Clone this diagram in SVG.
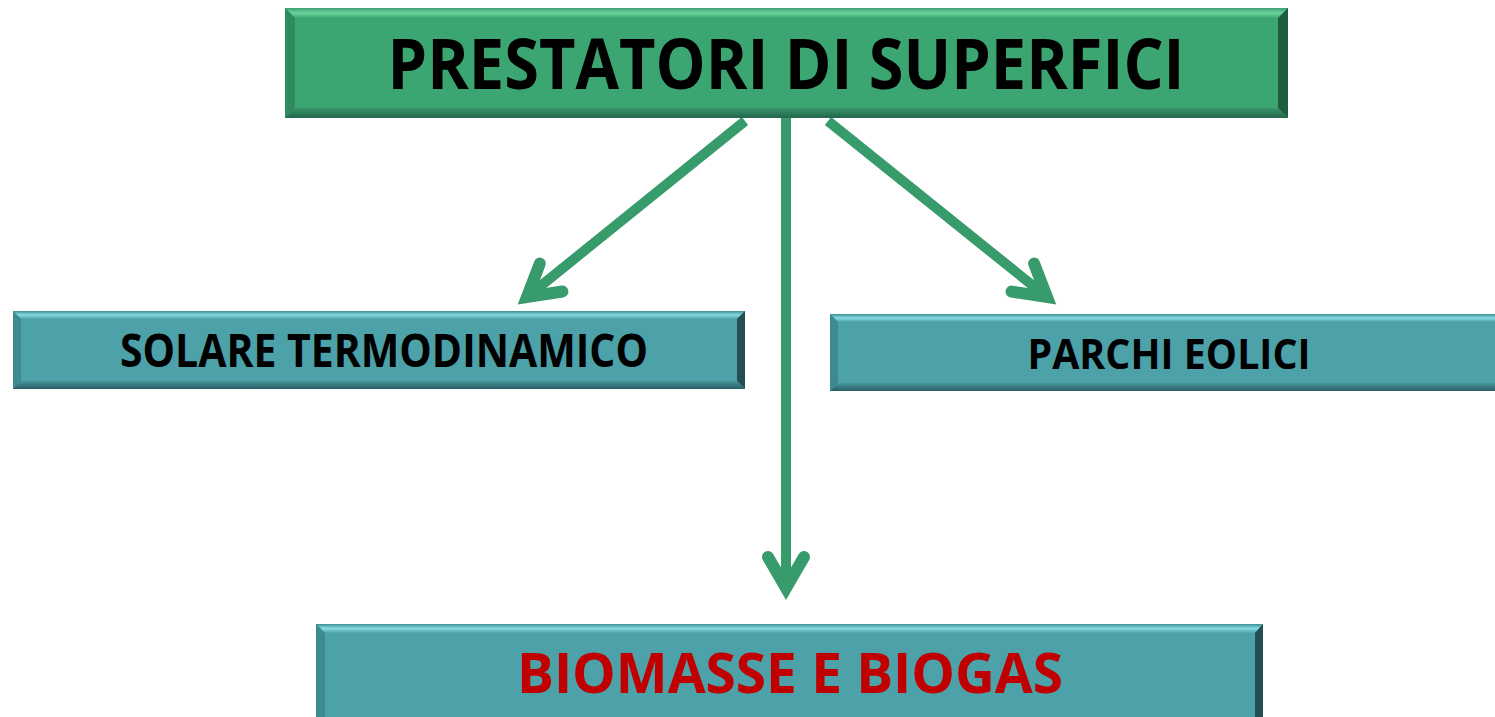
<svg xmlns="http://www.w3.org/2000/svg" width="1495" height="717" viewBox="0 0 1495 717">
<style>
.t{font-family:"Open Sans","Liberation Sans",sans-serif;font-weight:bold;fill:#000;text-anchor:middle}
.conn{stroke:#379B6B;stroke-width:10;fill:none;marker-end:url(#ah)}
</style>
<defs>
<marker id="ah" markerUnits="userSpaceOnUse" markerWidth="80" markerHeight="80" viewBox="-50 -40 80 80" refX="0" refY="0" orient="auto" overflow="visible">
<path d="M-31,-18 L0,0 L-31,18" fill="none" stroke="#379B6B" stroke-width="12" stroke-linecap="round" stroke-linejoin="miter" stroke-miterlimit="10"/>
</marker>
<linearGradient id="gTop" x1="0" y1="0" x2="0" y2="1"><stop offset="0" stop-color="#3f9e73"/><stop offset="0.5" stop-color="#6ad49b"/><stop offset="1" stop-color="#3ea872"/></linearGradient>
<linearGradient id="gBot" x1="0" y1="0" x2="0" y2="1"><stop offset="0" stop-color="#38956a"/><stop offset="1" stop-color="#22664a"/></linearGradient>
<linearGradient id="tTop" x1="0" y1="0" x2="0" y2="1"><stop offset="0" stop-color="#3f8f95"/><stop offset="0.5" stop-color="#86dbe2"/><stop offset="1" stop-color="#4da3a9"/></linearGradient>
<linearGradient id="tBot" x1="0" y1="0" x2="0" y2="1"><stop offset="0" stop-color="#46959b"/><stop offset="1" stop-color="#2a5f64"/></linearGradient>
</defs>
<g id="connectors">
<line class="conn" x1="745" y1="121" x2="527" y2="297"/>
<line class="conn" x1="786" y1="118" x2="786" y2="588"/>
<line class="conn" x1="828" y1="121" x2="1047" y2="297"/>
</g>
<g id="n-top">
<rect x="285" y="8" width="1003" height="110" fill="#3ba671"/>
<polygon points="285,8 1288,8 1278,18 295,18" fill="url(#gTop)"/>
<polygon points="285,8 295,18 295,108 285,118" fill="#2f8a5d"/>
<polygon points="1288,8 1278,18 1278,108 1288,118" fill="#1f5c40"/>
<polygon points="285,118 295,108 1278,108 1288,118" fill="url(#gBot)"/>
<text class="t" x="786" y="89" font-size="70" textLength="797" lengthAdjust="spacingAndGlyphs">PRESTATORI DI SUPERFICI</text>
</g>
<g id="n-solare">
<rect x="13" y="311" width="732" height="78" fill="#4da1a8"/>
<polygon points="13,311 745,311 737,319 21,319" fill="url(#tTop)"/>
<polygon points="13,311 21,319 21,381 13,389" fill="#3d8a90"/>
<polygon points="745,311 737,319 737,381 745,389" fill="#244f53"/>
<polygon points="13,389 21,381 737,381 745,389" fill="url(#tBot)"/>
<text class="t" x="384" y="367" font-size="46" textLength="528" lengthAdjust="spacingAndGlyphs">SOLARE TERMODINAMICO</text>
</g>
<g id="n-parchi">
<rect x="830" y="314" width="670" height="77" fill="#4da1a8"/>
<polygon points="830,314 1500,314 1500,322 838,322" fill="url(#tTop)"/>
<polygon points="830,314 838,322 838,383 830,391" fill="#3d8a90"/>
<polygon points="830,391 838,383 1500,383 1500,391" fill="url(#tBot)"/>
<text class="t" x="1169" y="369" font-size="42" textLength="283" lengthAdjust="spacingAndGlyphs">PARCHI EOLICI</text>
</g>
<g id="n-biomasse">
<rect x="316" y="624" width="947" height="93" fill="#4da1a8"/>
<polygon points="316,624 1263,624 1255,633 325,633" fill="url(#tTop)"/>
<polygon points="316,624 325,633 325,717 316,717" fill="#3d8a90"/>
<polygon points="1263,624 1255,633 1255,717 1263,717" fill="#244f53"/>
<text class="t" x="790" y="693" font-size="56" textLength="546" lengthAdjust="spacingAndGlyphs" style="fill:#c00000">BIOMASSE E BIOGAS</text>
</g>
</svg>
